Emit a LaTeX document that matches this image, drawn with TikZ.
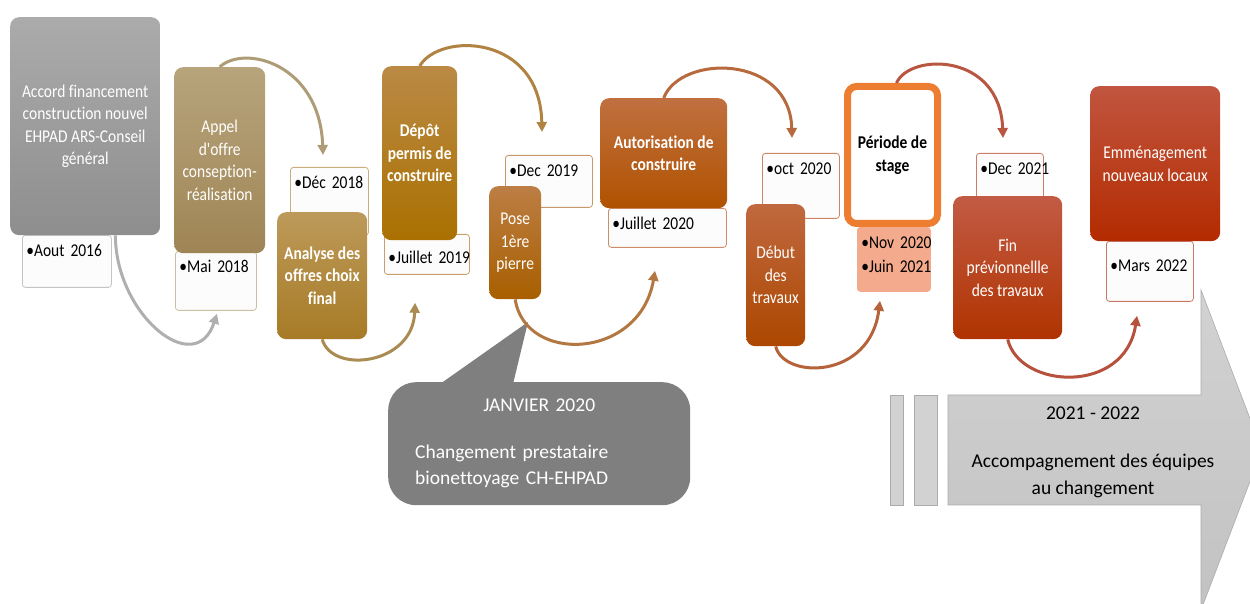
\documentclass[tikz,border=0pt]{standalone}
\usepackage{fontspec}
\setmainfont{Carlito}[Ligatures=NoCommon]
\newfontfamily\boxfont[FakeStretch=0.86,Ligatures=NoCommon]{Carlito}
\usepackage{xcolor}
\usepackage{tikz}
\usetikzlibrary{arrows.meta,calc}
\definecolor{TLGrayA}{HTML}{ABABAB}
\definecolor{TLGrayB}{HTML}{8E8E8E}
\definecolor{TLTanA}{HTML}{B7A47C}
\definecolor{TLTanB}{HTML}{9F8555}
\definecolor{TLGoldA}{HTML}{BD9A5A}
\definecolor{TLGoldB}{HTML}{A77B26}
\definecolor{TLOchreA}{HTML}{BA8A45}
\definecolor{TLOchreB}{HTML}{AA7000}
\definecolor{TLAmberA}{HTML}{BC7E44}
\definecolor{TLAmberB}{HTML}{A85F00}
\definecolor{TLRustA}{HTML}{C07040}
\definecolor{TLRustB}{HTML}{B05200}
\definecolor{TLBrickA}{HTML}{C0683F}
\definecolor{TLBrickB}{HTML}{AC4700}
\definecolor{TLRedA}{HTML}{C25B45}
\definecolor{TLRedB}{HTML}{B03300}
\definecolor{TLDeepA}{HTML}{C1553F}
\definecolor{TLDeepB}{HTML}{B32B00}
\definecolor{TLOrange}{HTML}{ED7D31}
\definecolor{TLSalmon}{HTML}{F4AA8C}
\definecolor{TLPaper}{HTML}{FCFCFC}
\definecolor{TLNote}{HTML}{7F7F7F}
\definecolor{TLBandA}{HTML}{D2D2D2}
\definecolor{TLBandB}{HTML}{C2C2C2}
\definecolor{TLBandLine}{HTML}{ABABAB}

\begin{document}
\begin{tikzpicture}[x=1pt,y=1pt,
  stagebox/.style 2 args={anchor=north west,rounded corners=9pt,top color=#1,bottom color=#2,text=white,align=center,inner sep=2pt,font=\boxfont\fontsize{18}{22.5}\selectfont},
  datebox/.style={anchor=north west,rounded corners=3pt,draw=#1,line width=0.8pt,fill=TLPaper,align=left,inner xsep=4pt,inner ysep=4pt,text height=17pt,font=\boxfont\fontsize{18}{24}\selectfont},
  link/.style={draw=#1,line width=3pt,-{Triangle[length=10pt,width=10pt]}},
  notebox/.style={anchor=north west,rounded corners=28pt,fill=TLNote,text=white,align=left,inner xsep=27pt,text width=248pt,font=\fontsize{19.5}{26}\selectfont},
  bandtext/.style={align=center,font=\fontsize{19.5}{27}\selectfont}]
\path[use as bounding box] (0,0) rectangle (1250,604);
\node[datebox=TLGrayA!70,text width=81pt,text depth=27pt] (d1) at (22,369) {•Aout~2016};
\node[datebox=TLTanA!70,text width=73pt,text depth=34pt] (d2) at (175,353) {•Mai~2018};
\node[datebox=TLGoldA!80,text width=70pt,text depth=43pt] (d3) at (290,437) {•Déc~2018};
\node[datebox=TLOchreA!80,text width=77pt,text height=25pt,text depth=7pt] (d4) at (384,370) {•Juillet~2019};
\node[datebox=TLAmberA!80,text width=79pt,text depth=27pt] (d5) at (505,449) {•Dec~2019};
\node[datebox=TLRustA!80,text width=110pt,text depth=14pt] (d6) at (608,396) {•Juillet~2020};
\node[datebox=TLBrickA!80,text width=69pt,text depth=40pt] (d7) at (762,451) {•oct~2020};
\node[datebox=TLSalmon,fill=TLSalmon,text width=65pt,text depth=39pt] (d8) at (857,377) {•Nov~2020\\•Juin~2021};
\node[datebox=TLRedA!80,text width=59pt,text depth=35pt] (d9) at (976,451) {•Dec~2021};
\node[datebox=TLDeepA!80,text width=79pt,text height=26pt,text depth=26pt] (d10) at (1106,363) {•Mars~2022};
\node[stagebox={TLGrayA}{TLGrayB},minimum width=150pt,minimum height=218pt] (b1) at (10,587) {Accord financement\\construction nouvel\\EHPAD ARS-Conseil\\général};
\node[stagebox={TLTanA}{TLTanB},minimum width=91pt,minimum height=186pt] (b2) at (174,537) {Appel\\d'offre\\conseption-\\réalisation};
\node[stagebox={TLGoldA}{TLGoldB},minimum width=90pt,minimum height=127pt] (b3) at (277,392) {\bfseries Analyse des\\\bfseries offres choix\\\bfseries final};
\node[stagebox={TLOchreA}{TLOchreB},minimum width=75pt,minimum height=174pt] (b4) at (382,538) {\bfseries Dépôt\\\bfseries permis de\\\bfseries construire};
\node[stagebox={TLAmberA}{TLAmberB},minimum width=52pt,minimum height=113pt] (b5) at (489,418) {Pose\\1ère\\pierre};
\node[stagebox={TLRustA}{TLRustB},minimum width=127pt,minimum height=110pt] (b6) at (600,506) {\bfseries Autorisation de\\\bfseries construire};
\node[stagebox={TLBrickA}{TLBrickB},minimum width=59pt,minimum height=142pt] (b7) at (746,400) {Début\\des\\travaux};
\node[anchor=north west,rounded corners=9pt,fill=white,draw=TLOrange,line width=7pt,align=center,inner sep=2pt,minimum width=90pt,minimum height=137pt,font=\boxfont\fontsize{18}{22.5}\selectfont\bfseries] (b8) at (844,521) {Période de\\stage};
\node[stagebox={TLRedA}{TLRedB},minimum width=109pt,minimum height=143pt] (b9) at (953,408) {Fin\\prévionnellle\\des travaux};
\node[stagebox={TLDeepA}{TLDeepB},minimum width=130pt,minimum height=155pt] (b10) at (1090,518) {Emménagement\\nouveaux locaux};
\node[notebox,minimum width=302pt,minimum height=123pt] (jan) at (388,222) {\makebox[\linewidth]{JANVIER 2020}\\[21pt]Changement prestataire\\bionettoyage CH-EHPAD};
\coordinate (jantip) at (528,282);
\fill[TLNote] ([xshift=52pt,yshift=-2pt]jan.north west) -- (jantip) -- ([xshift=125pt,yshift=-2pt]jan.north west) -- cycle;
\fill[TLBandA,draw=TLBandLine,line width=0.6pt] (890,99) rectangle (903,209);
\fill[TLBandA,draw=TLBandLine,line width=0.6pt] (914,99) rectangle (937,209);
\begin{scope}
\clip (0,0) rectangle (1250,604);
\shadedraw[top color=TLBandA,bottom color=TLBandB,draw=TLBandLine,line width=0.6pt] (948,209) -- (1201,209) -- (1201,314) -- (1262,154) -- (1201,-6) -- (1201,99) -- (948,99) -- cycle;
\end{scope}
\node[bandtext] (band) at (1093,152) {2021 - 2022\\[21pt]Accompagnement des équipes\\au changement};
\draw[link=TLGrayA!95] ([xshift=-45pt]b1.south east) .. controls +(0,-79) and +(-22,-66) .. ([shift={(42,-3)}]d2.south west);
\draw[link=TLTanA!95!black] (b2.north) .. controls +(25,23) and +(-3,91) .. ([shift={(33,12)}]d3.north west);
\draw[link=TLGoldA!90!black] (b3.south) .. controls +(10,-35) and +(-2,-62) .. ([shift={(31,-28)}]d4.south west);
\draw[link=TLOchreA!95!black] (b4.north) .. controls +(20,34) and +(-2,98) .. ([shift={(37,23)}]d5.north west);
\draw[link=TLAmberA!95!black] (b5.south) .. controls +(10,-65) and +(-15,-89) .. ([shift={(47,-23)}]d6.south west);
\draw[link=TLRustA!95!black] (b6.north) .. controls +(17,44) and +(-2,84) .. ([shift={(30,15)}]d7.north west);
\draw[link=TLBrickA!95!black] (b7.south) .. controls +(8,-33) and +(-10,-79) .. ([shift={(23,-9)}]d8.south west);
\draw[link=TLRedA!95!black] ([xshift=4pt]b8.north) .. controls +(13,30) and +(-3,86) .. ([shift={(27,15)}]d9.north west);
\draw[link=TLDeepA!95!black] (b9.south) .. controls +(12,-50) and +(-12,-79) .. ([shift={(31,-14)}]d10.south west);
\end{tikzpicture}
\end{document}
